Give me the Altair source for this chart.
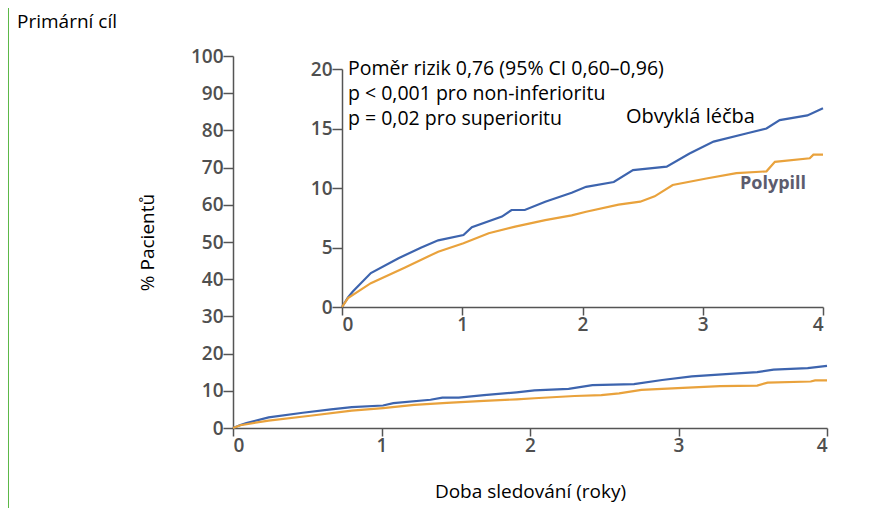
import altair as alt
import pandas as pd

# ---- data (cumulative % of patients) ----
usual_t = [0, 0.05, 0.09, 0.24, 0.47, 0.66, 0.80, 1.01, 1.08, 1.33, 1.41, 1.52, 1.69,
           1.91, 2.03, 2.26, 2.42, 2.70, 2.89, 3.09, 3.37, 3.53, 3.64, 3.87, 4.0]
usual_v = [0, 0.8, 1.3, 2.85, 4.1, 5.0, 5.6, 6.05, 6.7, 7.6, 8.15, 8.15, 8.85,
           9.6, 10.1, 10.5, 11.5, 11.8, 12.9, 13.9, 14.6, 15.0, 15.7, 16.1, 16.7]
poly_t = [0, 0.05, 0.24, 0.52, 0.80, 1.01, 1.22, 1.44, 1.69, 1.91, 2.03, 2.30,
          2.48, 2.60, 2.75, 3.03, 3.28, 3.53, 3.60, 3.89, 3.92, 4.0]
poly_v = [0, 0.75, 2.0, 3.3, 4.65, 5.35, 6.2, 6.75, 7.3, 7.7, 8.0, 8.6,
          8.85, 9.3, 10.25, 10.8, 11.25, 11.4, 12.2, 12.5, 12.8, 12.8]
groups = ["Obvyklá léčba", "Polypill"]
colors = ["#3d64ae", "#e9a23c"]

main_y_ticks = list(range(0, 101, 10))
inset_y_ticks = [0, 5, 10, 15, 20]
x_ticks = [0, 1, 2, 3, 4]

df = pd.concat([
    pd.DataFrame({"t": usual_t, "v": usual_v, "g": groups[0]}),
    pd.DataFrame({"t": poly_t, "v": poly_v, "g": groups[1]}),
])

W, H = 594, 372
FONT = "Open Sans"
AX = "#555555"

axis_common = dict(grid=False, domainColor=AX, tickColor=AX, labelColor="#4f4f4f",
                   labelFont=FONT, labelFontSize=19, labelFontWeight=600,
                   domainWidth=1.5, tickWidth=1.5, titleFont=FONT, titleFontSize=19,
                   titleFontWeight="normal", titleColor="#000000")

color_enc = alt.Color("g:N", scale=alt.Scale(domain=groups, range=colors), legend=None)

# ---- main plot ----
main_lines = alt.Chart(df).mark_line(strokeWidth=2.2).encode(
    x=alt.X("t:Q", scale=alt.Scale(domain=[0, 4], nice=False),
            axis=alt.Axis(values=x_ticks, format="d", orient="bottom", tickSize=8,
                          labelPadding=0, title="Doba sledování (roky)", titlePadding=27,
                          **axis_common)),
    y=alt.Y("v:Q", scale=alt.Scale(domain=[0, 100], nice=False),
            axis=alt.Axis(values=main_y_ticks, orient="left", tickSize=10,
                          labelPadding=0, title="% Pacientů", titlePadding=33,
                          **axis_common)),
    color=color_enc,
    detail="g:N",
)

def txt(s, x, y, size=19.5, weight="normal", color="#000000", align="left"):
    return alt.Chart(pd.DataFrame({"s": [s]})).mark_text(
        align=align, baseline="middle", font=FONT, fontSize=size,
        fontWeight=weight, color=color,
    ).encode(text="s:N", x=alt.value(x), y=alt.value(y))

title_txt = txt("Primární cíl", -216, -34, size=19)
green = alt.Chart(pd.DataFrame({"a": [0]})).mark_rule(color="#5cb847", strokeWidth=2).encode(
    x=alt.value(-225), y=alt.value(-48), y2=alt.value(H + 80))

main_layer = alt.layer(green, main_lines, title_txt)

# ---- inset ----
inset_lines = alt.Chart(df).mark_line(strokeWidth=2.2).encode(
    x=alt.X("t:Q", title=None, scale=alt.Scale(domain=[0, 4], nice=False, range=[109, 590]),
            axis=alt.Axis(values=x_ticks, format="d", orient="bottom", offset=-121,
                          tickSize=8, labelPadding=0, **axis_common)),
    y=alt.Y("v:Q", title=None, scale=alt.Scale(domain=[0, 20], nice=False, range=[251, 13]),
            axis=alt.Axis(values=inset_y_ticks, orient="left", offset=-109,
                          tickSize=10, labelPadding=0, **axis_common)),
    color=color_enc,
    detail="g:N",
)

t1 = txt("Poměr rizik 0,76 (95% CI 0,60–0,96)", 115, 13)
t2 = txt("p < 0,001 pro non-inferioritu", 115, 38)
t3 = txt("p = 0,02 pro superioritu", 115, 63)
t4 = txt("Obvyklá léčba", 393, 61, size=20)
t5 = txt("Polypill", 507, 128, size=18, weight="bold", color="#5c5c6e")

inset_layer = alt.layer(inset_lines, t1, t2, t3, t4, t5)

chart = alt.layer(main_layer, inset_layer).resolve_scale(
    x="independent", y="independent", color="shared"
).properties(
    width=W, height=H,
    autosize=alt.AutoSizeParams(type="none"),
    padding={"left": 225, "top": 48, "right": 61, "bottom": 80},
).configure_view(stroke=None)

chart.save("out.html", embed_options={"renderer": "svg", "actions": False})
